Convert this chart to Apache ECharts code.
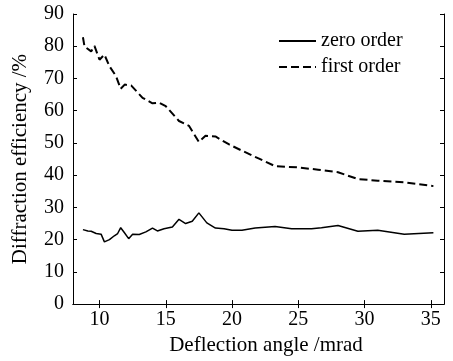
<!DOCTYPE html>
<html>
<head>
<meta charset="utf-8">
<script src="https://cdn.jsdelivr.net/npm/echarts@6/dist/echarts.min.js"></script>
<style>
html, body { margin: 0; padding: 0; background: #fff; }
#main { width: 453px; height: 361px; }
</style>
</head>
<body>
<div id="main"></div>
<script>
// values
var zeroAngle = [8.75, 9.12, 9.37, 9.5, 9.75, 10.12, 10.37, 10.75, 11.12, 11.37, 11.6, 11.87, 12.2, 12.5, 13, 13.5, 14, 14.37, 14.87, 15.5, 16, 16.5, 17, 17.5, 18.1, 18.75, 19.4, 20, 20.75, 21.75, 23.25, 24.5, 26, 26.75, 28, 29.5, 31, 33, 35.2];
var zeroEff = [23.1, 22.7, 22.6, 22.9, 21.9, 21.7, 19.3, 20, 21.2, 21.9, 23.7, 22.2, 20.3, 21.7, 21.6, 22.4, 23.6, 22.7, 23.4, 23.9, 26.3, 25, 25.7, 28.3, 25.2, 23.6, 23.4, 22.9, 22.9, 23.6, 24.1, 23.4, 23.4, 23.7, 24.4, 22.6, 22.9, 21.7, 22.1];
var firstAngle = [8.75, 8.87, 9.37, 9.62, 10, 10.37, 10.75, 11.25, 11.6, 11.9, 12.4, 13.25, 14, 14.5, 15, 16, 16.75, 17.5, 18, 18.75, 19.75, 20.75, 22, 23.25, 25, 26.5, 28, 29.5, 31, 33, 35.2];
var firstEff = [82.8, 79.9, 78.4, 80.1, 75.8, 77.4, 73.8, 70.7, 66.8, 68.1, 67.8, 64, 62.3, 62.5, 61.4, 56.8, 55.3, 50.3, 52.2, 52, 49.6, 47.6, 45.2, 42.8, 42.4, 41.7, 40.9, 38.8, 38.3, 37.8, 36.6];
var xTicks = [10, 15, 20, 25, 30, 35];

function pairs(xs, ys) {
    var out = [];
    for (var i = 0; i < xs.length; i++) out.push([xs[i], ys[i]]);
    return out;
}

var font = 'Liberation Serif, Times New Roman, serif';
var myChart = echarts.init(document.getElementById('main'));

var xBase = {
    type: 'value', min: 8, max: 36,
    axisLine: { show: true, lineStyle: { color: '#000', width: 1 } },
    axisTick: { show: true, inside: true, length: 4, lineStyle: { color: '#000' },
        customValues: xTicks },
    splitLine: { show: false }
};
var yBase = {
    type: 'value', min: 0, max: 90, interval: 10,
    axisLine: { show: true, lineStyle: { color: '#000', width: 1 } },
    axisTick: { show: true, inside: true, length: 4, lineStyle: { color: '#000' } },
    splitLine: { show: false }
};

var option = {
    backgroundColor: '#fff',
    animation: false,
    grid: { left: 73, right: 9, top: 14, bottom: 55 },
    legend: {
        orient: 'vertical',
        left: 278, top: 31, padding: 0,
        itemWidth: 37, itemHeight: 14, itemGap: 6,
        itemStyle: { opacity: 0 },
        textStyle: { fontFamily: font, fontSize: 20, color: '#000' },
        data: ['zero order', 'first order']
    },
    xAxis: [
        echarts.util.merge({
            position: 'bottom',
            name: 'Deflection angle /mrad', nameLocation: 'middle', nameGap: 28,
            nameTextStyle: { fontFamily: font, fontSize: 21, color: '#000', padding: [0, 0, 0, 15] },
            axisLabel: { fontFamily: font, fontSize: 20, color: '#000', margin: 6,
                customValues: xTicks }
        }, xBase, true),
        echarts.util.merge({ position: 'top', axisLabel: { show: false } }, xBase, true)
    ],
    yAxis: [
        echarts.util.merge({
            position: 'left',
            name: 'Diffraction efficiency /%', nameLocation: 'middle', nameGap: 42,
            nameTextStyle: { fontFamily: font, fontSize: 21, color: '#000' },
            axisLabel: { fontFamily: font, fontSize: 20, color: '#000', margin: 9 }
        }, yBase, true),
        echarts.util.merge({ position: 'right', axisLabel: { show: false } }, yBase, true)
    ],
    series: [
        {
            name: 'zero order', type: 'line', symbol: 'none',
            data: pairs(zeroAngle, zeroEff),
            lineStyle: { color: '#000', width: 1.5 },
            itemStyle: { color: '#000' }
        },
        {
            name: 'first order', type: 'line', symbol: 'none',
            data: pairs(firstAngle, firstEff),
            lineStyle: { color: '#000', width: 2, type: [8, 4] },
            itemStyle: { color: '#000' }
        }
    ]
};
myChart.setOption(option);
</script>
</body>
</html>
